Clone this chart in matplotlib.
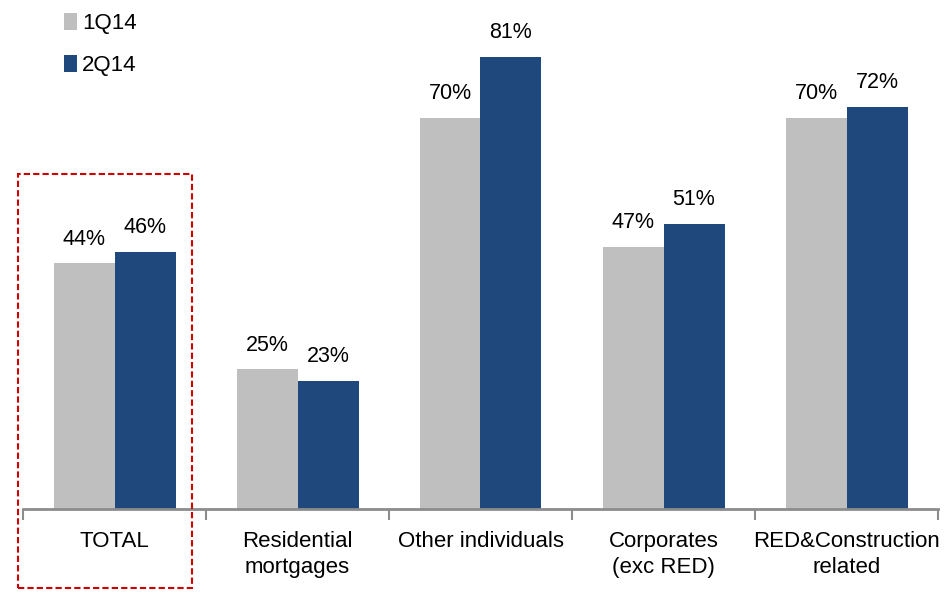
import matplotlib.pyplot as plt
import matplotlib.patches as patches
import numpy as np

plt.rcParams['font.family'] = ['Liberation Sans', 'DejaVu Sans']

categories = ['TOTAL', 'Residential\nmortgages', 'Other individuals',
              'Corporates\n(exc RED)', 'RED&Construction\nrelated']
q1_14 = [44, 25, 70, 47, 70]
q2_14 = [46, 23, 81, 51, 72]
series_names = ['1Q14', '2Q14']
colors = ['#BFBFBF', '#1F497D']

W, H = 945, 595
fig = plt.figure(figsize=(W / 100, H / 100), dpi=100)
ax = fig.add_axes([23 / W, (H - 509) / H, 915 / W, 509 / H])

x = np.arange(len(categories))
bw = 1 / 3
for i, (vals, name, c) in enumerate(zip([q1_14, q2_14], series_names, colors)):
    pos = x + (i - 0.5) * bw
    bars = ax.bar(pos, vals, width=bw, color=c, label=name, zorder=2)
    for b, v in zip(bars, vals):
        ax.annotate('%d%%' % v, (b.get_x() + b.get_width() / 2, v),
                    xytext=(0, 10), textcoords='offset points',
                    ha='center', va='bottom', fontsize=15.5)

ax.set_xlim(-0.5, len(categories) - 0.5)
ax.set_ylim(0, 91.2)
ax.set_yticks([])
for s in ['top', 'right', 'left']:
    ax.spines[s].set_visible(False)
ax.spines['bottom'].set_color('#8C8C8C')
ax.spines['bottom'].set_linewidth(2)

ax.set_xticks(x)
ax.set_xticklabels(categories, fontsize=16, linespacing=1.32)
ax.tick_params(axis='x', which='major', length=0, pad=16)
ax.set_xticks(np.arange(len(categories) + 1) - 0.5, minor=True)
ax.tick_params(axis='x', which='minor', length=8, width=1.5, color='#8C8C8C')

leg = ax.legend(loc='upper left', bbox_to_anchor=(64 / W, 1 - 13 / H),
                bbox_transform=fig.transFigure, frameon=False, fontsize=16,
                handlelength=0.6, handleheight=0.78, handletextpad=0.22,
                labelspacing=0.95, borderpad=0, borderaxespad=0)

rect = patches.Rectangle((18 / W, 1 - 588 / H), 174 / W, 414 / H,
                         transform=fig.transFigure, fill=False,
                         edgecolor='#CC0000', linestyle=(0, (3, 1.5)),
                         linewidth=1.5, clip_on=False)
fig.patches.append(rect)

fig.savefig('out.png', dpi=100)
